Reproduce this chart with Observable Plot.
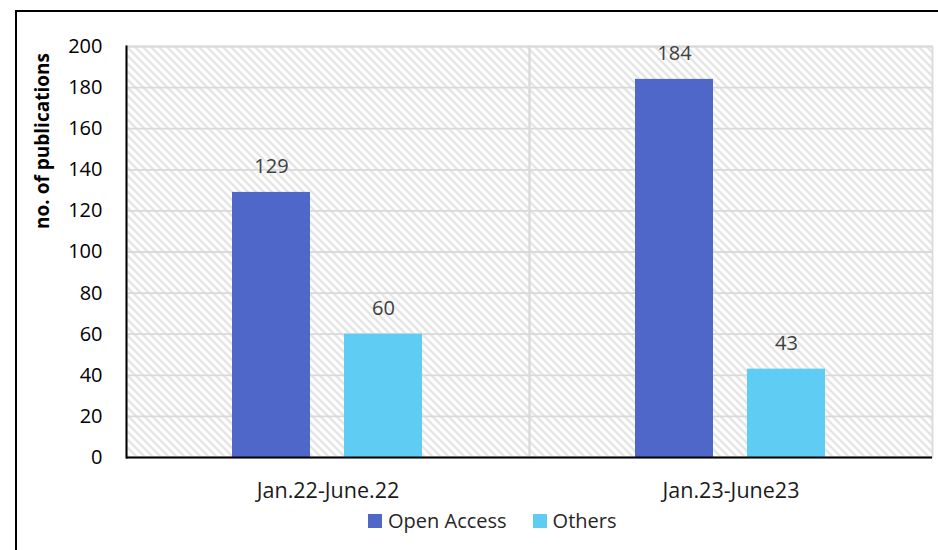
<!DOCTYPE html>
<html>
<head>
<meta charset="utf-8">
<script src="https://cdn.jsdelivr.net/npm/d3@7"></script>
<script src="https://cdn.jsdelivr.net/npm/@observablehq/plot@0.6"></script>
<style>
  html, body { margin: 0; padding: 0; background: #fff; overflow: hidden; width: 938px; height: 550px; }
  #wrap { position: relative; width: 938px; height: 550px; font-family: "Open Sans", sans-serif; }
  #border { position: absolute; left: 15px; top: 10px; width: 960px; height: 600px; border: 2px solid #000; box-sizing: border-box; }
  #chart { position: absolute; left: 0; top: 0; }
  #ylabel { position: absolute; left: 42px; top: 141px; transform: translate(-50%, -50%) rotate(-90deg); font-weight: bold; font-size: 19px; white-space: nowrap; color: #000; }
  #legend { position: absolute; left: 368px; top: 507px; display: flex; align-items: center; font-size: 20px; color: #262626; white-space: nowrap; }
  .sw { display: inline-block; width: 14px; height: 14px; margin-right: 6px; }
  .item { display: flex; align-items: center; margin-right: 26px; }
</style>
</head>
<body>
<div id="wrap">
  <div id="border"></div>
  <div id="chart"></div>
  <div id="ylabel">no. of publications</div>
  <div id="legend"></div>
</div>
<script>
const categories = ["Jan.22-June.22", "Jan.23-June23"];
const seriesNames = ["Open Access", "Others"];
const openAccess = [129, 184];
const others = [60, 43];
const yTicks = [0, 20, 40, 60, 80, 100, 120, 140, 160, 180, 200];
const seriesColors = ["#4E67C8", "#5ECCF3"];

const seriesValues = [openAccess, others];
const data = categories.flatMap((c, i) =>
  seriesNames.map((s, j) => ({period: c, series: s, value: seriesValues[j][i]}))
);

const font = "Open Sans, sans-serif";

const svg = Plot.plot({
  width: 938,
  height: 505,
  marginLeft: 125,
  marginRight: 6,
  marginTop: 46,
  marginBottom: 48,
  style: {fontFamily: font, background: "transparent", overflow: "visible"},
  fx: {domain: categories, padding: 0},
  x: {domain: seriesNames, paddingInner: 0.301, paddingOuter: 0.936, axis: null},
  y: {domain: [0, 200]},
  color: {domain: seriesNames, range: seriesColors},
  marks: [
    Plot.frame({fill: "url(#hatch)", stroke: "none", facet: "super"}),
    Plot.gridY(yTicks, {stroke: "#d9d9d9", strokeOpacity: 1, strokeWidth: 1.8}),
    Plot.frame({stroke: "#d9d9d9", strokeWidth: 1.8}),
    Plot.barY(data, {fx: "period", x: "series", y: "value", fill: "series"}),
    Plot.text(data, {fx: "period", x: "series", y: "value", text: d => String(d.value), dy: -26, fill: "#404040", fontSize: 20}),
    Plot.axisY(yTicks, {tickSize: 0, tickPadding: 24, fontSize: 20, fill: "#000", label: null}),
    Plot.axisFx({anchor: "bottom", tickSize: 0, tickPadding: 25, fontSize: 21.5, fill: "#1a1a1a", label: null}),
    Plot.ruleY([0], {stroke: "#000", strokeWidth: 2}),
    Plot.frame({anchor: "left", facet: "super", stroke: "#000", strokeWidth: 2})
  ]
});

d3.select(svg).insert("defs", ":first-child").html(
  '<pattern id="hatch" patternUnits="userSpaceOnUse" width="8" height="8">' +
  '<rect width="8" height="8" fill="#ffffff"/>' +
  '<path d="M-1,-1 L9,9 M-1,7 L1,9 M7,-1 L9,1" stroke="#e0e0e0" stroke-width="2.2"/>' +
  '</pattern>'
);

document.getElementById("chart").appendChild(svg);

const legend = d3.select("#legend");
seriesNames.forEach((s, i) => {
  const item = legend.append("div").attr("class", "item");
  item.append("span").attr("class", "sw").style("background", seriesColors[i]);
  item.append("span").text(s);
});
</script>
</body>
</html>
